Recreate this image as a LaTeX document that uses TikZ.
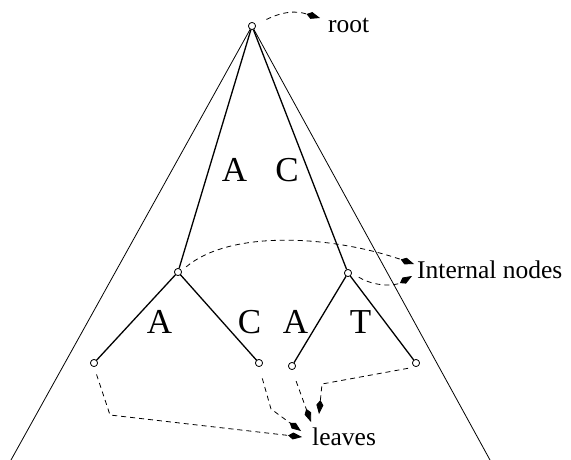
\documentclass[tikz,border=0pt]{standalone}
\usepackage{fontspec}
\setmainfont{Liberation Serif}
\usetikzlibrary{arrows.meta}
\begin{document}
\begin{tikzpicture}[x=1pt,y=-1pt,
  vtx/.style={draw,circle,minimum size=7pt,inner sep=0pt,line width=0.7pt,fill=white},
  branch/.style={line width=1.3pt},
  hull/.style={line width=0.8pt},
  base/.style={font=\fontsize{35}{40}\selectfont,inner sep=0pt,anchor=base},
  lbl/.style={font=\fontsize{25.5}{30}\selectfont,inner sep=0pt,anchor=base west},
  ptr/.style={dash pattern=on 5pt off 4pt,line width=0.8pt,-{Kite[length=14pt,width=7pt,inset=5pt]}}]
\useasboundingbox (0,0) rectangle (571,460);
% nodes
\node[vtx] (root) at (252,26) {};
\node[vtx] (iL) at (178,272) {};
\node[vtx] (iR) at (348,273) {};
\node[vtx] (l1) at (94,363) {};
\node[vtx] (l2) at (259,363) {};
\node[vtx] (l3) at (292,366) {};
\node[vtx] (l4) at (416,363) {};
\coordinate (bl) at (11,460);
\coordinate (br) at (490,460);
% hull lines
\draw[hull] (bl) -- (root) -- (br);
% tree branches
\draw[branch] (root) -- (iL);
\draw[branch] (root) -- (iR);
\draw[branch] (iL) -- (l1);
\draw[branch] (iL) -- (l2);
\draw[branch] (iR) -- (l3);
\draw[branch] (iR) -- (l4);
% redraw circles on top
\foreach \n in {root,iL,iR,l1,l2,l3,l4} \node[vtx] at (\n) {};
% base letters
\node[base] (b1) at (234.5,182) {A};
\node[base] (b2) at (287,182) {C};
\node[base] (b3) at (159.5,333) {A};
\node[base] (b4) at (249.5,333) {C};
\node[base] (b5) at (295.5,333) {A};
\node[base] (b6) at (360.5,333) {T};
% labels
\node[lbl] (rootlbl) at (328,33) {root};
\node[lbl] (intlbl) at (417,278) {Internal nodes};
\node[lbl] (leaflbl) at (312,445) {leaves};
% pointer tips
\coordinate (tR) at (320,18);
\coordinate (tI1) at (414,264);
\coordinate (tI2) at (412,276);
\coordinate (tL1) at (302,437);
\coordinate (tL2) at (301,431);
\coordinate (tL3) at (311,422);
\coordinate (tL4) at (319,414);
% pointers
\draw[ptr,shorten <=12pt] (root.20) .. controls (290,8) and (303,13) .. (tR);
\draw[ptr,shorten <=6pt] (iL.20) .. controls (230,230) and (330,235) .. (tI1);
\draw[ptr,shorten <=8pt] (iR.east) .. controls (375,287) and (395,286) .. (tI2);
\draw[ptr,shorten <=8pt] (l1.south) -- (110,415) -- (tL1);
\draw[ptr,shorten <=12pt] (l2.south) -- (271,409) -- (tL2);
\draw[ptr,shorten <=12pt] (l3.south) -- (tL3);
\draw[ptr,shorten <=8pt] (l4.south) -- (322,384) -- (tL4);
\end{tikzpicture}
\end{document}
